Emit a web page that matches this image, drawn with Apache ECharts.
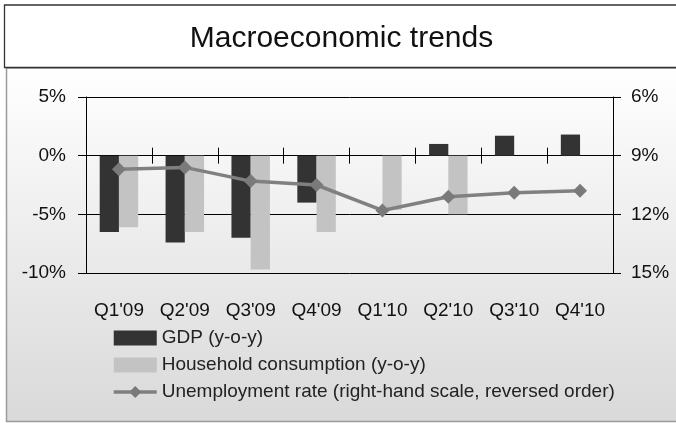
<!DOCTYPE html>
<html>
<head>
<meta charset="utf-8">
<script src="https://cdn.jsdelivr.net/npm/echarts@6/dist/echarts.min.js"></script>
<style>
html,body{margin:0;padding:0;background:#ffffff;}
#chart{width:676px;height:423px;}
</style>
</head>
<body>
<div id="chart"></div>
<script>
var categories = ["Q1'09","Q2'09","Q3'09","Q4'09","Q1'10","Q2'10","Q3'10","Q4'10"];
var gdp = [-6.5, -7.4, -7.0, -4.0, 0, 1.0, 1.7, 1.8];
var household = [-6.1, -6.5, -9.7, -6.5, -4.6, -5.0, null, null];
var unemployment = [9.7, 9.6, 10.3, 10.5, 11.8, 11.1, 10.9, 10.8];
var leftTicks = [-10, -5, 0, 5];
var rightTicks = [6, 9, 12, 15];

var FONT = "'Liberation Sans Narrow','Arial Narrow','Liberation Sans',sans-serif";
var chart = echarts.init(document.getElementById('chart'), null, {renderer:'canvas'});

var gridBox = {left: 86, right: 63, top: 97, bottom: 150};

chart.setOption({
  animation: false,
  textStyle: {fontFamily: FONT},
  graphic: [
    {type:'rect', z:-10, shape:{x:6.5, y:68, width:700, height:353.5},
     style:{fill:new echarts.graphic.LinearGradient(0,0,0,1,[{offset:0,color:'#ffffff'},{offset:1,color:'#d9d9d9'}]), stroke:'#9a9a9a', lineWidth:1.5}},
    {type:'rect', z:-9, shape:{x:4.5, y:5, width:700, height:62.5},
     style:{fill:'#ffffff', stroke:'#333333', lineWidth:1.3}}
  ],
  title: {
    text: 'Macroeconomic trends',
    left: 336.5, top: 19, textAlign: 'center',
    textStyle: {fontFamily: FONT, fontSize: 30, fontWeight: 'normal', color: '#111111'}
  },
  legend: {
    orient: 'vertical', left: 107, top: 323,
    itemWidth: 43, itemHeight: 15, itemGap: 7,
    textStyle: {fontFamily: FONT, fontSize: 19, color: '#222222', lineHeight: 20},
    data: [
      {name: 'GDP (y-o-y)', icon: 'rect'},
      {name: 'Household consumption (y-o-y)', icon: 'rect'},
      {name: 'Unemployment rate (right-hand scale, reversed order)', lineStyle: {width: 3.5, color: '#808080'}}
    ]
  },
  grid: [
    Object.assign({}, gridBox),
    Object.assign({}, gridBox)
  ],
  xAxis: [
    {type:'category', gridIndex:0, data:categories, position:'bottom',
     axisLine:{show:true, onZero:true, onZeroAxisIndex:0, lineStyle:{color:'#000', width:1}},
     axisTick:{show:true, length:8, lineStyle:{color:'#000'}},
     axisLabel:{show:false}, splitLine:{show:false}},
    {type:'category', gridIndex:0, data:categories, position:'top',
     axisLine:{show:false, onZero:true, onZeroAxisIndex:0},
     axisTick:{show:true, length:8, lineStyle:{color:'#000'}},
     axisLabel:{show:false}, splitLine:{show:false}},
    {type:'category', gridIndex:1, data:categories, position:'bottom',
     axisLine:{show:false, onZero:false}, axisTick:{show:false},
     axisLabel:{show:true, margin:28, fontFamily:FONT, fontSize:19, color:'#111', interval:0},
     splitLine:{show:false}}
  ],
  yAxis: [
    {type:'value', gridIndex:0, position:'left', min:leftTicks[0], max:leftTicks[leftTicks.length-1], interval:5,
     axisLine:{show:true, lineStyle:{color:'#000'}},
     axisTick:{show:true, length:8, lineStyle:{color:'#000'}},
     axisLabel:{margin:20, fontFamily:FONT, fontSize:19, color:'#111', formatter:'{value}%'},
     splitLine:{show:true, lineStyle:{color:'#000', width:1}}},
    {type:'value', gridIndex:0, position:'right', inverse:true, min:rightTicks[0], max:rightTicks[rightTicks.length-1], interval:3,
     axisLine:{show:true, lineStyle:{color:'#000'}},
     axisTick:{show:true, length:8, lineStyle:{color:'#000'}},
     axisLabel:{margin:18, fontFamily:FONT, fontSize:19, color:'#111', formatter:'{value}%'},
     splitLine:{show:false}},
    {type:'value', gridIndex:1, show:false, min:0, max:1}
  ],
  series: [
    {name:'GDP (y-o-y)', type:'bar', xAxisIndex:0, yAxisIndex:0, data:gdp,
     barGap:'0%', barCategoryGap:'41.6%', itemStyle:{color:'#333333'}},
    {name:'Household consumption (y-o-y)', type:'bar', xAxisIndex:0, yAxisIndex:0, data:household,
     barGap:'0%', barCategoryGap:'41.6%', itemStyle:{color:'#c3c3c3'}},
    {name:'Unemployment rate (right-hand scale, reversed order)', type:'line', xAxisIndex:0, yAxisIndex:1,
     data:unemployment, symbol:'diamond', symbolSize:14, z:5,
     lineStyle:{color:'#808080', width:3.5}, itemStyle:{color:'#7a7a7a'}}
  ]
});
</script>
</body>
</html>
